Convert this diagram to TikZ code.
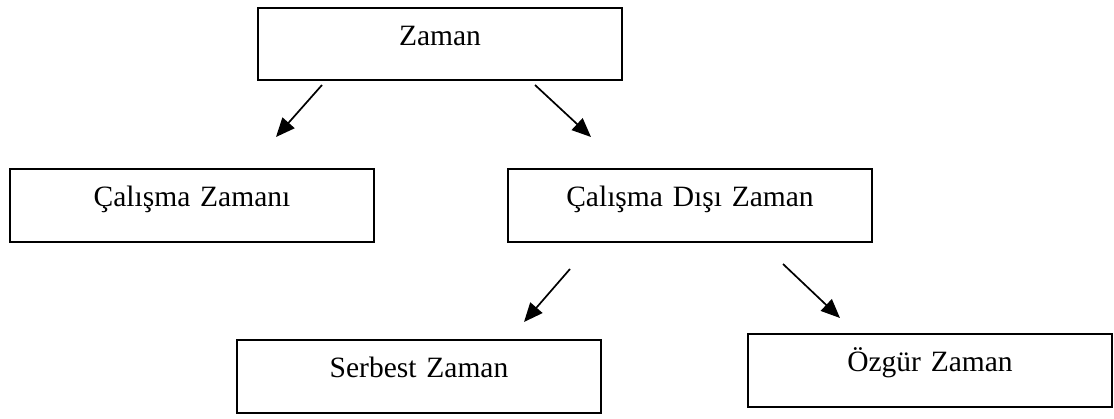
\documentclass[tikz,border=0pt]{standalone}
\usepackage{fontspec}
\setmainfont{Liberation Serif}
\usetikzlibrary{arrows.meta}
\tikzset{
  box/.style={draw, line width=2pt, anchor=north west, inner sep=0pt,
    text width=364pt, align=center, text height=38pt, text depth=35pt,
    font=\fontsize{29.5}{34}\selectfont},
  arr/.style={line width=1.7pt, -{Triangle[length=19pt,width=16pt]}}
}
\begin{document}
\begin{tikzpicture}[x=1pt,y=-1pt]
\useasboundingbox (0,0) rectangle (1114,419);
\node[box, text depth=34pt] (zaman) at (257,7) {Zaman};
\node[box] (calisma) at (9,168) {Çalışma Zamanı};
\node[box] (disi) at (507,168) {Çalışma Dışı Zaman};
\node[box] (serbest) at (236,339) {Serbest Zaman};
\node[box] (ozgur) at (747,333) {Özgür Zaman};
\coordinate (a1s) at (322,85);  \coordinate (a1e) at (276,137);
\coordinate (a2s) at (535,85);  \coordinate (a2e) at (591,137);
\coordinate (a3s) at (570,269); \coordinate (a3e) at (524,322);
\coordinate (a4s) at (783,264); \coordinate (a4e) at (840,318);
\draw[arr] (a1s) -- (a1e);
\draw[arr] (a2s) -- (a2e);
\draw[arr] (a3s) -- (a3e);
\draw[arr] (a4s) -- (a4e);
\end{tikzpicture}
\end{document}
